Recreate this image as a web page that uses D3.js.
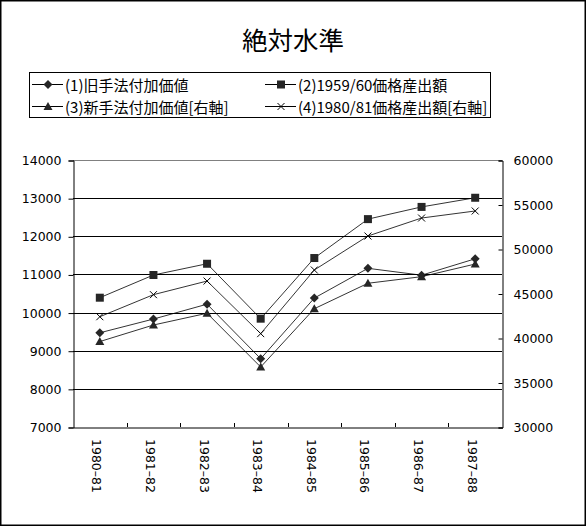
<!DOCTYPE html>
<html lang="ja">
<head>
<meta charset="UTF-8">
<title>絶対水準</title>
<script src="https://d3js.org/d3.v7.min.js"></script>
<style>
  body { margin: 0; background: #fff; }
  text { font-family: "DejaVu Sans", "Liberation Sans", sans-serif; fill: #000; }
  .jp { font-family: "Noto Sans CJK JP", "Noto Sans", sans-serif; }
</style>
</head>
<body>
<div id="chart"></div>
<script>
// data
const years = ["1980–81", "1981–82", "1982–83", "1983–84", "1984–85", "1985–86", "1986–87", "1987–88"];
const oldValueAdded = [9470, 9830, 10220, 8790, 10380, 11160, 10980, 11410];       // left axis
const output5960 = [10390, 10985, 11280, 9840, 11430, 12450, 12770, 13010];        // left axis
const newValueAdded = [39600, 41460, 42780, 36740, 43290, 46150, 46890, 48310];    // right axis
const output8081 = [42390, 44870, 46400, 40490, 47640, 51460, 53480, 54270];       // right axis
const leftTicks = [7000, 8000, 9000, 10000, 11000, 12000, 13000, 14000];
const rightTicks = [30000, 35000, 40000, 45000, 50000, 55000, 60000];
const seriesNames = ["(1)旧手法付加価値", "(2)1959/60価格産出額", "(3)新手法付加価値[右軸]", "(4)1980/81価格産出額[右軸]"];

const W = 586, H = 526;
const plot = {left: 73, right: 502, top: 160, bottom: 427};

const svg = d3.select("#chart").append("svg")
    .attr("width", W).attr("height", H);

// outer frame
svg.append("rect")
    .attr("x", 0.75).attr("y", 0.75)
    .attr("width", W - 1.5).attr("height", H - 1.5)
    .attr("fill", "#fff").attr("stroke", "#000").attr("stroke-width", 1.5);

svg.append("text").attr("class", "jp")
    .attr("x", 293).attr("y", 38)
    .attr("text-anchor", "middle").attr("dominant-baseline", "central")
    .style("font-size", "25.5px")
    .text("絶対水準");

const x = d3.scaleBand().domain(years).range([plot.left, plot.right]);
const yL = d3.scaleLinear().domain([7000, 14000]).range([plot.bottom, plot.top]);
const yR = d3.scaleLinear().domain([30000, 60000]).range([plot.bottom, plot.top]);

// gridlines
svg.append("g").selectAll("line")
    .data(leftTicks.slice(1, -1))
    .join("line")
    .attr("x1", plot.left).attr("x2", plot.right)
    .attr("y1", d => Math.round(yL(d)) + 0.5).attr("y2", d => Math.round(yL(d)) + 0.5)
    .attr("stroke", "#000");

// top border of plot area
svg.append("line")
    .attr("x1", plot.left).attr("x2", plot.right)
    .attr("y1", plot.top + 0.5).attr("y2", plot.top + 0.5)
    .attr("stroke", "#808080");

// left axis
const axL = svg.append("g")
    .attr("transform", `translate(${plot.left + 0.5},0.5)`)
    .call(d3.axisLeft(yL).tickValues(leftTicks).tickSize(5).tickPadding(7).tickFormat(d3.format("d")));
// right axis
const axR = svg.append("g")
    .attr("transform", `translate(${plot.right + 0.5},0.5)`)
    .call(d3.axisRight(yR).tickValues(rightTicks).tickSize(-4).tickPadding(11).tickFormat(d3.format("d")));
// bottom axis
const axB = svg.append("g")
    .attr("transform", `translate(0.5,${plot.bottom + 0.5})`)
    .call(d3.axisBottom(x).tickSize(0).tickFormat(""));
[axL, axR, axB].forEach(a => {
  a.attr("font-family", null).attr("font-size", null);
  a.select(".domain").attr("stroke", "#000");
  a.selectAll(".tick line").attr("stroke", "#000");
  a.selectAll(".tick text").style("font-size", "12.5px").attr("fill", "#000");
});

// category boundary ticks (inside, pointing up)
svg.append("g").selectAll("line")
    .data(years.slice(1))
    .join("line")
    .attr("x1", d => Math.round(x(d)) + 0.5).attr("x2", d => Math.round(x(d)) + 0.5)
    .attr("y1", plot.bottom).attr("y2", plot.bottom - 4)
    .attr("stroke", "#000");

// rotated category labels
svg.append("g").selectAll("text")
    .data(years)
    .join("text")
    .attr("transform", d => `translate(${x(d) + x.bandwidth() / 2 - 3},439) rotate(90)`)
    .attr("dominant-baseline", "central")
    .style("font-size", "12.5px")
    .text(d => d);

const markerColor = "#262626";
function drawMarker(sel, kind) {
  if (kind === "diamond") {
    sel.append("path").attr("d", "M0,-4.5L4.5,0L0,4.5L-4.5,0Z").attr("fill", markerColor);
  } else if (kind === "square") {
    sel.append("rect").attr("x", -4).attr("y", -4).attr("width", 8).attr("height", 8).attr("fill", markerColor);
  } else if (kind === "triangle") {
    sel.append("path").attr("d", "M0,-4.5L4.5,3.5L-4.5,3.5Z").attr("fill", markerColor);
  } else {
    sel.append("path").attr("d", "M-3.5,-3.5L3.5,3.5M-3.5,3.5L3.5,-3.5")
      .attr("stroke", "#000").attr("fill", "none");
  }
}

const series = [
  {name: seriesNames[0], values: oldValueAdded, y: yL, marker: "diamond"},
  {name: seriesNames[1], values: output5960, y: yL, marker: "square"},
  {name: seriesNames[2], values: newValueAdded, y: yR, marker: "triangle"},
  {name: seriesNames[3], values: output8081, y: yR, marker: "cross"}
];

series.forEach(s => {
  const line = d3.line()
      .x((d, i) => x(years[i]) + x.bandwidth() / 2)
      .y(d => s.y(d));
  svg.append("path")
      .datum(s.values)
      .attr("fill", "none")
      .attr("stroke", "#000")
      .attr("stroke-width", 0.8)
      .attr("d", line);
  svg.append("g").selectAll("g")
      .data(s.values)
      .join("g")
      .attr("transform", (d, i) => `translate(${x(years[i]) + x.bandwidth() / 2},${s.y(d)})`)
      .each(function() { drawMarker(d3.select(this), s.marker); });
});

// legend
const legend = svg.append("g");
legend.append("rect")
    .attr("x", 29.5).attr("y", 72.5).attr("width", 461).attr("height", 45)
    .attr("fill", "#fff").attr("stroke", "#000");
const legPos = [[32, 84], [265, 84], [32, 106], [265, 106]];
series.forEach((s, i) => {
  const [lx, ly] = legPos[i];
  const g = legend.append("g").attr("transform", `translate(${lx},${ly})`);
  g.append("line").attr("x1", 0).attr("x2", 31).attr("y1", 0.5).attr("y2", 0.5).attr("stroke", "#000");
  const m = g.append("g").attr("transform", "translate(16,0.5)");
  drawMarker(m, s.marker);
  g.append("text").attr("class", "jp")
      .attr("x", 33).attr("y", 0)
      .attr("dominant-baseline", "central")
      .style("font-size", "15px")
      .text(s.name);
});
</script>
</body>
</html>
